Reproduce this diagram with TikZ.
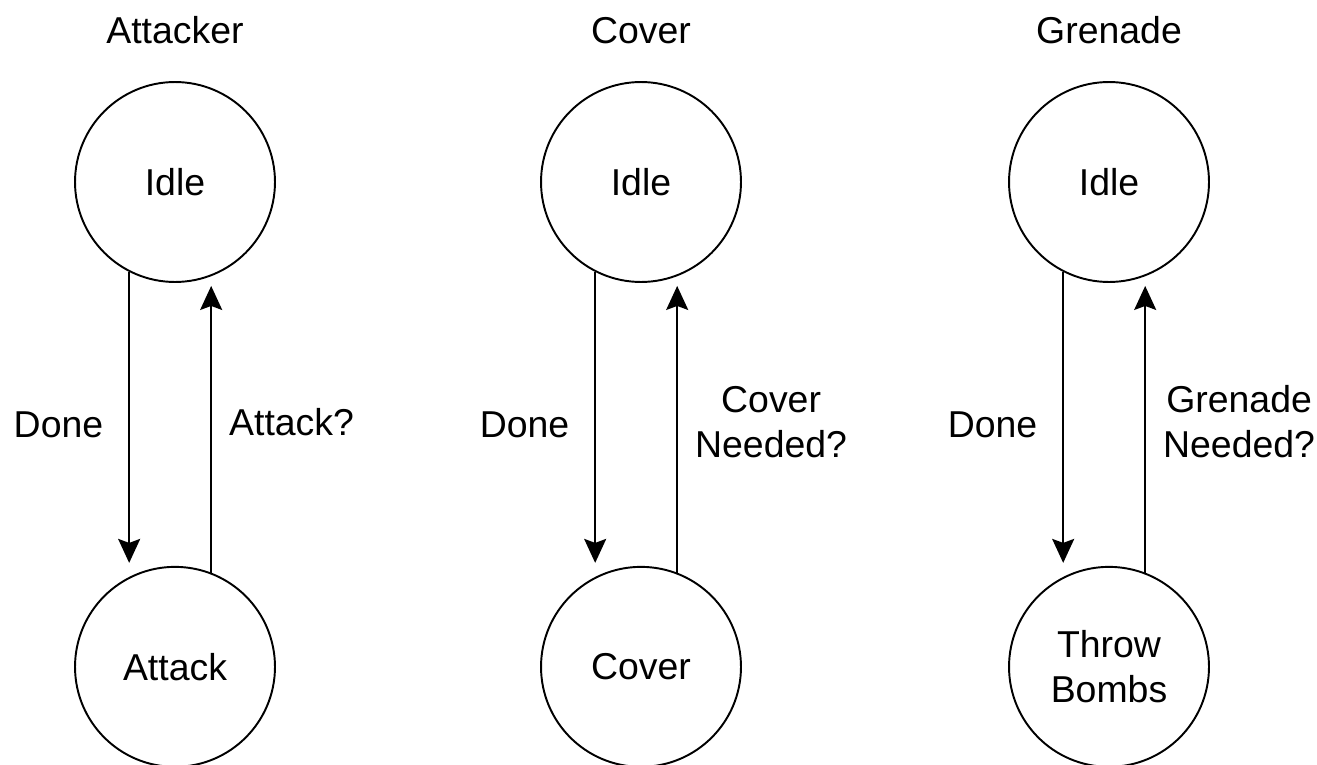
\documentclass[tikz,border=0pt]{standalone}
\usepackage{fontspec}
\setmainfont{Liberation Sans}
\usetikzlibrary{arrows.meta,positioning}

\begin{document}
\begin{tikzpicture}[
  x=0.02cm, y=-0.02cm,
  node distance=0.5cm,
  state/.style={
    circle,
    draw=black,
    line width=1.1pt,
    minimum size=4cm,
    inner sep=0pt,
    align=center,
    font=\fontsize{21.3}{25.5}\selectfont
  },
  machine/.style={
    inner sep=0pt,
    font=\fontsize{21.3}{25.5}\selectfont
  },
  cond/.style={
    inner sep=0pt,
    align=center,
    font=\fontsize{21.3}{25.5}\selectfont
  },
  arrow/.style={-{Stealth[length=0.48cm,width=0.44cm,inset=0.08cm]}, line width=1.1pt, shorten >=0.06cm}
]

\useasboundingbox (0,0) rectangle (1317,764);

% attacker
\node[state] (attackIdle) at (175,182) {Idle};
\node[state, below=5.66cm of attackIdle] (attackAct) {Attack};
\node[machine, above=0.74cm of attackIdle] (attackTitle) {Attacker};

\draw[arrow] (attackIdle.-117) -- (attackIdle.-117 |- attackAct.north)
  node[cond, pos=0.52, left=0.5cm] {Done};
\draw[arrow] (attackAct.69) -- (attackAct.69 |- attackIdle.south)
  node[cond, pos=0.52, right=0.34cm] {Attack?};

% cover
\node[state] (coverIdle) at (641,182) {Idle};
\node[state, below=5.66cm of coverIdle] (coverAct) {Cover};
\node[machine, above=0.74cm of coverIdle] (coverTitle) {Cover};

\draw[arrow] (coverIdle.-117) -- (coverIdle.-117 |- coverAct.north)
  node[cond, pos=0.52, left=0.5cm] {Done};
\draw[arrow] (coverAct.69) -- (coverAct.69 |- coverIdle.south)
  node[cond, pos=0.52, right=0.34cm] {Cover\\Needed?};

% grenade
\node[state] (grenIdle) at (1109,182) {Idle};
\node[state, below=5.66cm of grenIdle] (grenThrow) {Throw\\Bombs};
\node[machine, above=0.74cm of grenIdle] (grenTitle) {Grenade};

\draw[arrow] (grenIdle.-117) -- (grenIdle.-117 |- grenThrow.north)
  node[cond, pos=0.52, left=0.5cm] {Done};
\draw[arrow] (grenThrow.69) -- (grenThrow.69 |- grenIdle.south)
  node[cond, pos=0.52, right=0.34cm] {Grenade\\Needed?};

\end{tikzpicture}
\end{document}
